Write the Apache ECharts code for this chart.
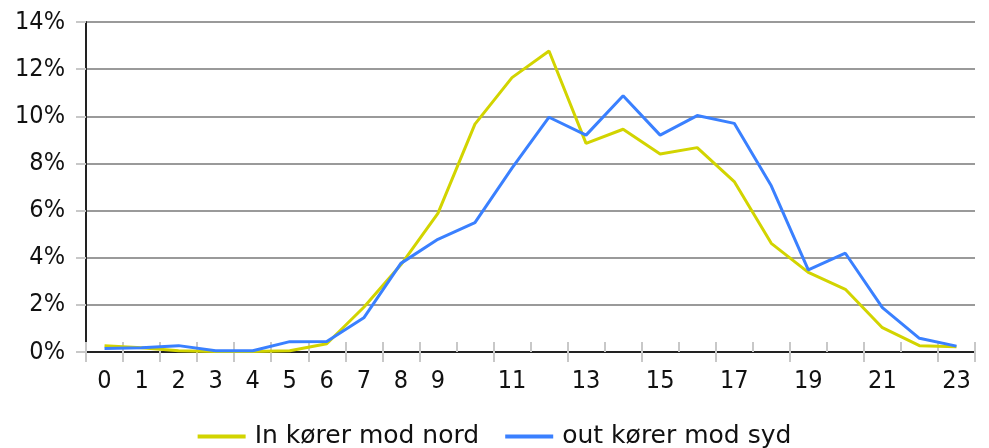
<!DOCTYPE html>
<html>
<head>
<meta charset="utf-8">
<script src="https://cdn.jsdelivr.net/npm/echarts@6/dist/echarts.min.js"></script>
<style>
html,body{margin:0;padding:0;background:#fff;}
#chart{width:989px;height:448px;}
</style>
</head>
<body>
<div id="chart"></div>
<script>
const hours = ['0','1','2','3','4','5','6','7','8','9','10','11','12','13','14','15','16','17','18','19','20','21','22','23'];
const nordName = 'In kører mod nord';
const sydName = 'out kører mod syd';
const nordValues = [0.27, 0.18, 0.05, 0.02, 0.02, 0.05, 0.35, 1.9, 3.7, 5.88, 9.67, 11.64, 12.77, 8.85, 9.45, 8.4, 8.67, 7.23, 4.61, 3.38, 2.66, 1.03, 0.27, 0.22];
const sydValues = [0.15, 0.18, 0.27, 0.05, 0.05, 0.44, 0.45, 1.45, 3.76, 4.78, 5.49, 7.8, 9.96, 9.2, 10.87, 9.2, 10.03, 9.7, 7.05, 3.48, 4.19, 1.88, 0.58, 0.25];
const yMin = 0, yMax = 14, yStep = 2;

const tickFont = '"Liberation Sans Narrow", "DejaVu Sans Condensed", "Liberation Sans", sans-serif';
const chart = echarts.init(document.getElementById('chart'), null, {renderer: 'canvas'});
chart.setOption({
  animation: false,
  backgroundColor: '#ffffff',
  grid: {left: 86, right: 14, top: 22, bottom: 96, containLabel: false},
  legend: {
    top: 419, left: 'center',
    itemWidth: 48, itemHeight: 4, itemGap: 26,
    icon: 'rect',
    textStyle: {fontFamily: '"DejaVu Sans", sans-serif', fontSize: 25, color: '#111', padding: [0, 0, 0, 4]},
    data: [nordName, sydName]
  },
  xAxis: [{
    type: 'category', data: hours, boundaryGap: true,
    axisLine: {lineStyle: {color: '#222', width: 2}},
    axisTick: {show: true, inside: false, length: 10, lineStyle: {color: '#c8c8c8', width: 2}},
    axisLabel: {
      interval: function (i) { return i <= 9 || i % 2 === 1; },
      margin: 17, fontSize: 25, color: '#111', fontFamily: tickFont
    },
    splitLine: {show: false}
  }, {
    type: 'category', data: hours, boundaryGap: true, position: 'bottom',
    axisLine: {show: false},
    axisTick: {show: true, inside: true, length: 10, lineStyle: {color: '#c8c8c8', width: 2}},
    axisLabel: {show: false}, splitLine: {show: false}
  }],
  yAxis: {
    type: 'value', min: yMin, max: yMax, interval: yStep,
    axisLine: {show: true, lineStyle: {color: '#222', width: 2}},
    axisTick: {show: true, inside: false, length: 10, lineStyle: {color: '#c8c8c8', width: 2}},
    axisLabel: {formatter: '{value}%', margin: 21, fontSize: 25, color: '#111', fontFamily: tickFont},
    splitLine: {show: true, lineStyle: {color: '#9a9a9a', width: 2}}
  },
  series: [{
    name: nordName, type: 'line', data: nordValues, xAxisIndex: 0,
    showSymbol: false, symbol: 'none',
    lineStyle: {color: '#d2d400', width: 3},
    itemStyle: {color: '#d2d400'}, z: 3
  }, {
    name: sydName, type: 'line', data: sydValues, xAxisIndex: 0,
    showSymbol: false, symbol: 'none',
    lineStyle: {color: '#3a80ff', width: 3},
    itemStyle: {color: '#3a80ff'}, z: 4
  }]
});
</script>
</body>
</html>
